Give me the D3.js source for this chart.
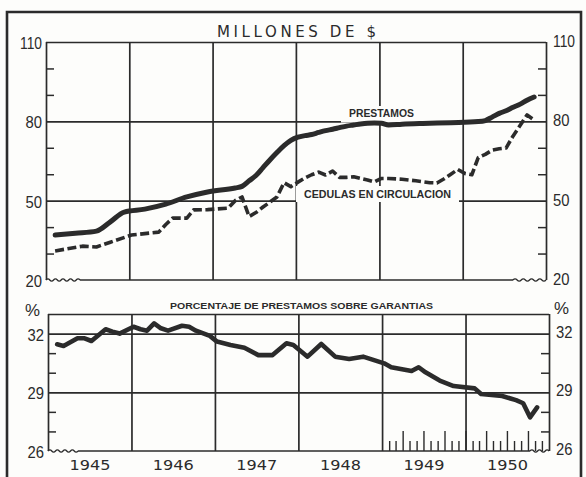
<!DOCTYPE html>
<html><head><meta charset="utf-8">
<script src="https://cdn.jsdelivr.net/npm/d3@7"></script>
<style>
html,body{margin:0;padding:0;background:#fdfdfb;}
svg{display:block;}
</style></head><body>
<svg id="c" width="586" height="477"></svg>
<script>
// ---------- DATA ----------
const prestamosMonths = ["1945-02","1945-05","1945-08","1945-10","1945-12","1946-03","1946-06","1946-09","1946-12",
  "1947-04","1947-05","1947-06","1947-07","1947-08","1947-09","1947-10","1947-11","1947-12",
  "1948-01","1948-02","1948-03","1948-04","1948-05","1948-06","1948-07","1948-08","1948-09","1948-10","1948-11","1948-12",
  "1949-01","1949-02","1949-04","1949-07","1949-11",
  "1950-03","1950-04","1950-05","1950-06","1950-07","1950-08","1950-09","1950-10","1950-11"];
const prestamosValues = [37.0,37.7,38.5,42.0,45.7,46.8,48.7,51.4,53.3,
  54.8,55.4,57.5,59.5,62.5,65.5,68.2,70.8,72.8,
  74.0,74.6,75.0,75.8,76.5,77.0,77.6,78.2,78.6,79.0,79.3,79.4,
  79.3,78.6,78.9,79.2,79.5,
  79.9,80.3,81.6,83.0,84.0,85.3,86.5,88.0,89.2];

const cedulasMonths = ["1945-02","1945-06","1945-08","1945-10","1946-01","1946-05","1946-06","1946-07","1946-09","1946-10","1946-12",
  "1947-03","1947-04","1947-05","1947-06","1947-07","1947-08","1947-09","1947-10","1947-11","1947-12",
  "1948-01","1948-02","1948-03","1948-04","1948-05","1948-06","1948-07","1948-08","1948-09","1948-10","1948-11","1948-12",
  "1949-01","1949-02","1949-04","1949-06","1949-08","1949-09","1949-10","1949-11","1949-12",
  "1950-01","1950-02","1950-03","1950-04","1950-05","1950-06","1950-07","1950-08","1950-09","1950-10","1950-11"];
const cedulasValues = [31.0,32.8,32.5,34.3,37.0,38.1,41.0,43.4,43.4,46.5,46.6,
  47.2,50.0,51.4,44.0,45.5,47.6,49.5,51.4,56.8,55.3,
  57.0,58.6,59.8,60.8,59.7,61.2,58.8,58.8,59.0,58.4,57.8,57.1,
  58.4,58.4,58.1,57.5,56.8,56.7,58.2,60.0,61.8,
  60.3,59.8,66.3,67.5,69.1,69.6,69.9,74.5,78.5,82.4,80.5];

const porcentajeMonths = ["1945-02","1945-03","1945-05","1945-06","1945-07","1945-09","1945-10","1945-11",
  "1946-01","1946-02","1946-03","1946-04","1946-05","1946-06","1946-08","1946-09","1946-10","1946-12",
  "1947-01","1947-03","1947-05","1947-07","1947-09","1947-11","1947-12",
  "1948-02","1948-04","1948-06","1948-08","1948-10",
  "1949-01","1949-02","1949-05","1949-06","1949-07","1949-09","1949-11",
  "1950-02","1950-03","1950-06","1950-08","1950-09","1950-10","1950-11"];
const porcentajeValues = [31.45,31.37,31.76,31.76,31.62,32.22,32.1,32.0,
  32.35,32.22,32.15,32.52,32.27,32.15,32.4,32.35,32.15,31.88,
  31.59,31.42,31.28,30.9,30.9,31.5,31.42,
  30.82,31.47,30.82,30.7,30.82,
  30.48,30.28,30.09,30.28,30.02,29.6,29.32,
  29.2,28.91,28.81,28.6,28.44,27.72,28.23];

const yearLabels = ["1945","1946","1947","1948","1949","1950"];
const topLabelTicks = [110,80,50,20];
const topMinorTicks = [100,90,70,60,40,30];
const botLabelTicks = [32,29,26];
const botMinorTicks = [31,30,28,27];

const titleTop = "MILLONES DE $";
const titleBottom = "PORCENTAJE DE PRESTAMOS SOBRE GARANTIAS";
const labelPrestamos = "PRESTAMOS";
const labelCedulas = "CEDULAS EN CIRCULACION";

// ---------- SETUP ----------
const INK = "#2b2b2b";
const BG = "#fdfdfb";
const svg = d3.select("#c");
const parseM = d3.timeParse("%Y-%m");
const toDate = s => d3.timeDay.offset(parseM(s), 9);
const x0 = new Date(1945,0,1), x1 = new Date(1951,0,1);

const xTop = d3.scaleTime([x0,x1],[46,546]);
const xBot = d3.scaleTime([x0,x1],[48,549]);
const yTop = d3.scaleLinear([20,110],[280,42]);
const yBot = d3.scaleLinear([26,33],[451,314]);

// outer frame
svg.append("path").attr("d","M7,477 L7,12 L581,12 L581,477")
  .attr("fill","none").attr("stroke",INK).attr("stroke-width",2.6);

function styleGrid(g, w){
  g.select(".domain").remove();
  g.selectAll("line").attr("stroke",INK).attr("stroke-width",w);
}

function squigglePath(xa, xb, y){
  // decorative axis-break wave
  let d = `M${xa},${y}`;
  const n = Math.round((xb-xa)/4);
  for(let i=1;i<=n;i++){
    const xx = xa + (xb-xa)*i/n;
    const cx = xa + (xb-xa)*(i-0.5)/n;
    d += ` Q${cx},${y + (i%2? -2.4 : 2.4)} ${xx},${y}`;
  }
  return d;
}

function panel(x, y, yMajorGrid, yLabels, yMinor, leftLabelDy, rightLabelDy, breakL, breakR){
  const [l,r] = x.range();
  const [b,t] = y.range();
  const years = d3.timeYear.range(x0, d3.timeDay.offset(x1,1));
  svg.append("g").attr("transform",`translate(0,${b})`)
    .call(d3.axisBottom(x).tickValues(years).tickSize(-(b-t)).tickFormat(""))
    .call(g=>styleGrid(g,1.7));
  svg.append("g").attr("transform",`translate(${l},0)`)
    .call(d3.axisLeft(y).tickValues(yMajorGrid).tickSize(-(r-l)).tickFormat(""))
    .call(g=>styleGrid(g,1.7));
  svg.append("g").attr("transform",`translate(${l},0)`)
    .call(d3.axisLeft(y).tickValues(yMinor).tickSize(-8).tickFormat(""))
    .call(g=>styleGrid(g,1.5));
  svg.append("g").attr("transform",`translate(${r},0)`)
    .call(d3.axisRight(y).tickValues(yMinor).tickSize(-8).tickFormat(""))
    .call(g=>styleGrid(g,1.5));
  svg.append("path").attr("d", squigglePath(l, breakL, b)).attr("fill","none").attr("stroke",INK).attr("stroke-width",1.3);
  svg.append("path").attr("d", `M${breakL},${b} L${breakR},${b}`).attr("fill","none").attr("stroke",INK).attr("stroke-width",1.5);
  svg.append("path").attr("d", squigglePath(breakR, r, b)).attr("fill","none").attr("stroke",INK).attr("stroke-width",1.3);
  const lab = g => {
    g.select(".domain").remove();
    g.selectAll("line").remove();
    g.selectAll("text")
      .attr("font-family","'Liberation Sans', Arial, sans-serif")
      .attr("font-size",17).attr("fill",INK)
      .attr("lengthAdjust","spacingAndGlyphs")
      .attr("textLength", d => String(d).length===3 ? 22 : 16.5);
  };
  svg.append("g").attr("transform",`translate(${l},${leftLabelDy})`)
    .call(d3.axisLeft(y).tickValues(yLabels).tickSize(0).tickPadding(4).tickFormat(d3.format("d")))
    .call(lab);
  svg.append("g").attr("transform",`translate(${r},${rightLabelDy})`)
    .call(d3.axisRight(y).tickValues(yLabels).tickSize(0).tickPadding(7).tickFormat(d3.format("d")))
    .call(lab);
}

// ---------- TOP PANEL ----------
panel(xTop, yTop, [110,80,50], topLabelTicks, topMinorTicks, 1, -1, 80, 513);

svg.append("text").attr("x",296.5).attr("y",37).attr("text-anchor","middle")
  .attr("font-family","'DejaVu Sans', sans-serif").attr("font-size",15)
  .attr("fill",INK).attr("textLength",159).attr("lengthAdjust","spacing")
  .text(titleTop);

// label backgrounds (break gridlines)
svg.append("rect").attr("x",341).attr("y",106).attr("width",83).attr("height",16.5).attr("fill",BG);
svg.append("rect").attr("x",296).attr("y",186).attr("width",163).attr("height",16).attr("fill",BG);

const prest = prestamosMonths.map((m,i)=>({date:toDate(m), v:prestamosValues[i]}));
const ced = cedulasMonths.map((m,i)=>({date:toDate(m), v:cedulasValues[i]}));

svg.append("path").datum(ced)
  .attr("d", d3.line().x(d=>xTop(d.date)).y(d=>yTop(d.v)).curve(d3.curveLinear))
  .attr("fill","none").attr("stroke",INK).attr("stroke-width",3.6)
  .attr("stroke-dasharray","9,3.5").attr("stroke-linejoin","round");
svg.append("path").datum(prest)
  .attr("d", d3.line().x(d=>xTop(d.date)).y(d=>yTop(d.v)).curve(d3.curveMonotoneX))
  .attr("fill","none").attr("stroke",INK).attr("stroke-width",5)
  .attr("stroke-linejoin","round").attr("stroke-linecap","round");

svg.append("text").attr("x",381.5).attr("y",117.3).attr("text-anchor","middle")
  .attr("font-family","'Liberation Sans', Arial, sans-serif").attr("font-weight","bold").attr("font-size",10)
  .attr("fill",INK).attr("textLength",65).attr("lengthAdjust","spacingAndGlyphs").text(labelPrestamos);
svg.append("text").attr("x",377.5).attr("y",197.5).attr("text-anchor","middle")
  .attr("font-family","'Liberation Sans', Arial, sans-serif").attr("font-weight","bold").attr("font-size",10.5)
  .attr("fill",INK).attr("textLength",147).attr("lengthAdjust","spacingAndGlyphs").text(labelCedulas);

// ---------- BOTTOM PANEL ----------
panel(xBot, yBot, [33,32,29], botLabelTicks, botMinorTicks, 1, -2, 78, 530);

svg.append("text").attr("x",301.5).attr("y",308.5).attr("text-anchor","middle")
  .attr("font-family","'Liberation Sans', Arial, sans-serif").attr("font-weight","bold").attr("font-size",9.5)
  .attr("fill",INK).attr("textLength",263).attr("lengthAdjust","spacingAndGlyphs").text(titleBottom);

svg.append("text").attr("x",40).attr("y",316).attr("text-anchor","end")
  .attr("font-family","'Liberation Sans', Arial, sans-serif").attr("font-size",17).attr("fill",INK)
  .attr("textLength",15).attr("lengthAdjust","spacingAndGlyphs").text("%");
svg.append("text").attr("x",554).attr("y",314).attr("text-anchor","start")
  .attr("font-family","'Liberation Sans', Arial, sans-serif").attr("font-size",17).attr("fill",INK)
  .attr("textLength",15).attr("lengthAdjust","spacingAndGlyphs").text("%");

const monthTicks = d3.timeMonth.range(new Date(1949,1,1), new Date(1951,0,1));
const quarterTicks = monthTicks.filter(d => d.getMonth()%3===0);
const shortTicks = monthTicks.filter(d => d.getMonth()%3!==0);
svg.append("g").attr("transform","translate(0,451)")
  .call(d3.axisTop(xBot).tickValues(shortTicks).tickSize(10).tickFormat(""))
  .call(g=>styleGrid(g,1.4));
svg.append("g").attr("transform","translate(0,451)")
  .call(d3.axisTop(xBot).tickValues(quarterTicks).tickSize(20).tickFormat(""))
  .call(g=>styleGrid(g,1.4));

const pct = porcentajeMonths.map((m,i)=>({date:toDate(m), v:porcentajeValues[i]}));
svg.append("path").datum(pct)
  .attr("d", d3.line().x(d=>xBot(d.date)).y(d=>yBot(d.v)).curve(d3.curveLinear))
  .attr("fill","none").attr("stroke",INK).attr("stroke-width",4.6)
  .attr("stroke-linejoin","round").attr("stroke-linecap","round");

svg.append("g").attr("transform","translate(0,451)")
  .call(d3.axisBottom(xBot).tickValues(yearLabels.map(y=>new Date(+y,6,1))).tickSize(0).tickPadding(9)
    .tickFormat(d3.timeFormat("%Y")))
  .call(g=>{
    g.select(".domain").remove();
    g.selectAll("text").attr("font-family","'DejaVu Sans', sans-serif").attr("font-size",14)
      .attr("fill",INK).attr("textLength",41).attr("lengthAdjust","spacingAndGlyphs");
  });
</script>
</body></html>
